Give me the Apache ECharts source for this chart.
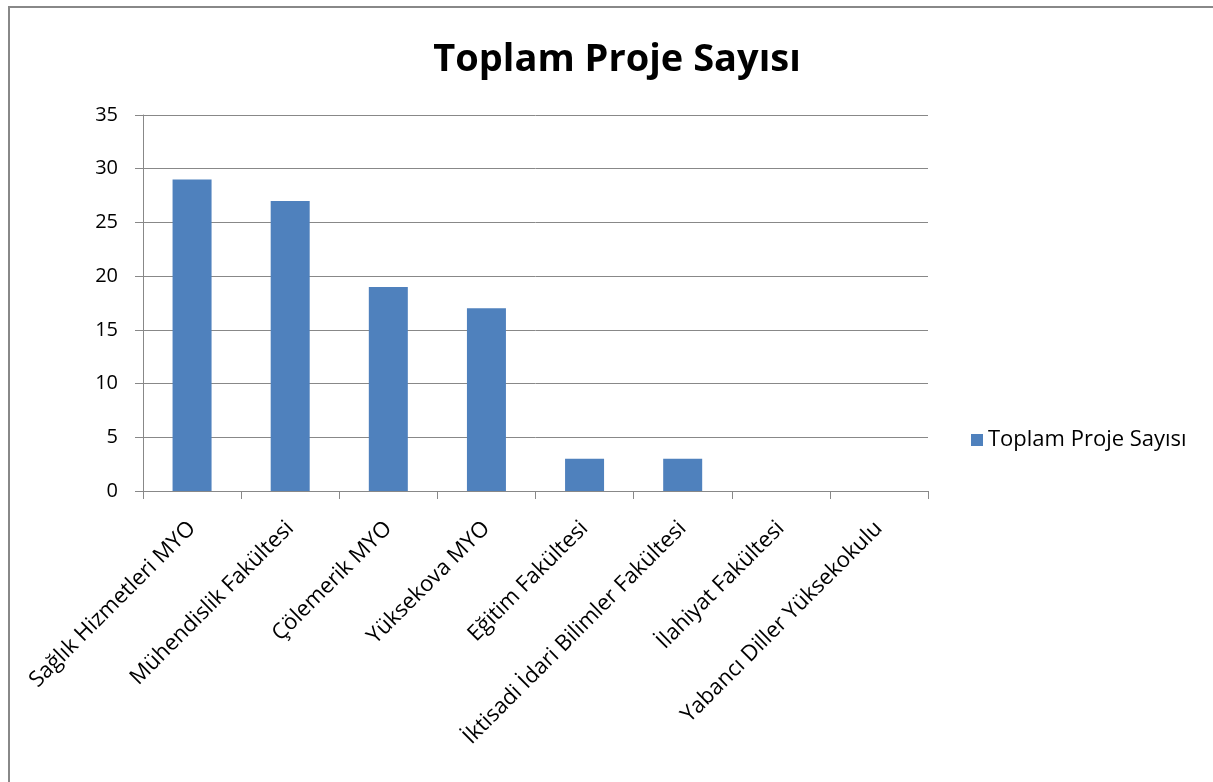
<!DOCTYPE html>
<html>
<head>
<meta charset="utf-8">
<script src="https://cdn.jsdelivr.net/npm/echarts@6/dist/echarts.min.js"></script>
<style>
  html, body { margin: 0; padding: 0; background: #fff; }
  #chart { width: 1213px; height: 782px; }
  #frame { position: absolute; left: 8px; top: 6px; width: 1300px; height: 900px;
           border-top: 2px solid #888; border-left: 2px solid #888; pointer-events: none; }
</style>
</head>
<body>
<div id="chart"></div>
<div id="frame"></div>
<script>
// veriler
const categories = [
  "Sağlık Hizmetleri MYO",
  "Mühendislik Fakültesi",
  "Çölemerik MYO",
  "Yüksekova MYO",
  "Eğitim Fakültesi",
  "İktisadi İdari Bilimler Fakültesi",
  "İlahiyat Fakültesi",
  "Yabancı Diller Yüksekokulu"
];
const projeSayisi = [29, 27, 19, 17, 3, 3, 0, 0];
const seriesName = "Toplam Proje Sayısı";

const font = "'Open Sans', 'Noto Sans', sans-serif";
const myChart = echarts.init(document.getElementById("chart"));
const option = {
  animation: false,
  title: {
    text: "Toplam Proje Sayısı",
    left: 612,
    top: 36,
    textAlign: "center",
    textStyle: { fontFamily: font, fontSize: 38, fontWeight: "bold", color: "#000" }
  },
  legend: {
    left: 966,
    top: 424,
    itemWidth: 12,
    itemHeight: 12,
    itemGap: 9,
    icon: "rect",
    textStyle: { fontFamily: font, fontSize: 22, color: "#000" },
    data: [seriesName]
  },
  grid: { left: 143, right: 285, top: 115, bottom: 291, containLabel: false },
  xAxis: {
    type: "category",
    data: categories,
    axisLine: { lineStyle: { color: "#888", width: 1 } },
    axisTick: { show: true, length: 8, lineStyle: { color: "#888" } },
    axisLabel: {
      rotate: 45,
      interval: 0,
      margin: 34,
      fontFamily: font,
      fontSize: 22,
      color: "#000"
    }
  },
  yAxis: {
    type: "value",
    min: 0,
    max: 35,
    interval: 5,
    axisLine: { show: true, lineStyle: { color: "#888" } },
    axisTick: { show: true, length: 8, lineStyle: { color: "#888" } },
    splitLine: { lineStyle: { color: "#888" } },
    axisLabel: { margin: 25, fontFamily: font, fontSize: 20, color: "#000" }
  },
  series: [
    {
      name: seriesName,
      type: "bar",
      data: projeSayisi,
      barWidth: 39,
      itemStyle: { color: "#4f81bd" }
    }
  ]
};
myChart.setOption(option);
</script>
</body>
</html>
